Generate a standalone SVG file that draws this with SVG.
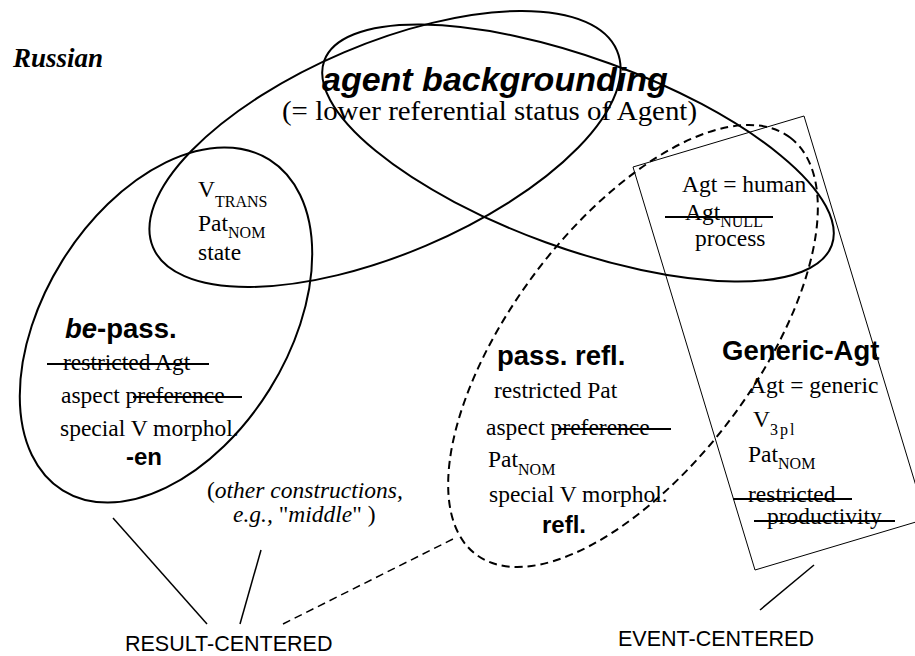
<svg xmlns="http://www.w3.org/2000/svg" width="915" height="656" viewBox="0 0 915 656">
<style>
.e{fill:none;stroke:#000;stroke-width:2}
.d{fill:none;stroke:#000;stroke-width:2;stroke-dasharray:8 5}
.r{fill:none;stroke:#000;stroke-width:1}
.s{stroke:#000;stroke-width:2;fill:none}
.t{font-family:"Liberation Serif","Times New Roman",serif;font-size:23.5px;fill:#000}
.h{font-family:"Liberation Sans",Arial,sans-serif;font-weight:bold;font-size:27.5px;fill:#000}
.sub{font-size:16px}
.lab{font-family:"Liberation Sans",Arial,sans-serif;font-size:21.5px;fill:#000}
</style>
<rect width="915" height="656" fill="#fff"/>
<text x="13" y="67" class="t" style="font-size:27px;font-weight:bold;font-style:italic">Russian</text>

<g id="agent-backgrounding">
<ellipse class="e" cx="385" cy="149" rx="252" ry="105" transform="rotate(-23 385 149)"/>
<ellipse class="e" cx="578" cy="153" rx="270" ry="95" transform="rotate(20 578 153)"/>
<text x="322" y="91" class="h" style="font-size:34px;font-style:italic">agent backgrounding</text>
<text x="282" y="120" class="t" style="font-size:28px" textLength="415" lengthAdjust="spacingAndGlyphs">(= lower referential status of Agent)</text>
<text x="198" y="197" class="t">V<tspan class="sub" dy="10">TRANS</tspan></text>
<text x="198" y="231" class="t">Pat<tspan class="sub" dy="7">NOM</tspan></text>
<text x="198" y="260" class="t">state</text>
<text x="682" y="192" class="t">Agt = human</text>
<text x="685" y="220" class="t">Agt<tspan class="sub" dy="7">NULL</tspan></text>
<text x="695" y="246" class="t">process</text>
</g>

<g id="be-pass">
<ellipse class="e" cx="166" cy="325" rx="195" ry="122" transform="rotate(-58 166 325)"/>
<text x="65" y="338" class="h"><tspan font-style="italic">be</tspan>-pass.</text>
<text x="63" y="370" class="t">restricted Agt</text>
<text x="61" y="403" class="t">aspect preference</text>
<text x="60" y="436" class="t">special V morphol.</text>
<text x="126" y="465" class="h" style="font-size:24px">-en</text>
</g>

<g id="pass-refl">
<ellipse class="d" cx="633" cy="346" rx="261" ry="122" transform="rotate(-53 633 346)"/>
<text x="497" y="365" class="h">pass. refl.</text>
<text x="494" y="398" class="t">restricted Pat</text>
<text x="486" y="435" class="t">aspect preference</text>
<text x="488" y="467" class="t">Pat<tspan class="sub" dy="8">NOM</tspan></text>
<text x="489" y="502" class="t">special V morphol.</text>
<text x="542" y="533" class="h" style="font-size:24px">refl.</text>
</g>

<g id="generic-agt">
<polygon class="r" points="633,167 804,116 926,519 755,570"/>
<text x="722" y="360" class="h">Generic-Agt</text>
<text x="749" y="393" class="t">Agt = generic</text>
<text x="753" y="427" class="t">V<tspan class="sub" dy="8" letter-spacing="2">3pl</tspan></text>
<text x="748" y="462" class="t">Pat<tspan class="sub" dy="7">NOM</tspan></text>
<text x="748" y="502" class="t">restricted</text>
<text x="767" y="524" class="t">productivity</text>
</g>

<g id="other-constructions">
<text x="207" y="498" class="t">(<tspan font-style="italic">other constructions,</tspan></text>
<text x="233" y="522" class="t"><tspan font-style="italic">e.g.,</tspan> "<tspan font-style="italic">middle</tspan>" )</text>
</g>

<g id="strikes">
<line class="s" x1="47" y1="364" x2="209" y2="364"/>
<line class="s" x1="133" y1="397" x2="242" y2="397"/>
<line class="s" x1="558" y1="429" x2="671" y2="429"/>
<line class="s" x1="665" y1="217" x2="773" y2="217"/>
<line class="s" x1="733" y1="499" x2="852" y2="499"/>
<line class="s" x1="754" y1="521" x2="895" y2="521"/>
</g>

<g id="connectors">
<line class="s" style="stroke-width:1.5" x1="113" y1="518" x2="207" y2="624"/>
<line class="s" style="stroke-width:1.5" x1="261" y1="550" x2="240" y2="624"/>
<line class="d" style="stroke-width:1.5" x1="283" y1="624" x2="457" y2="537"/>
<line class="s" style="stroke-width:1.5" x1="814" y1="565" x2="760" y2="610"/>
</g>

<g id="result-centered"><text x="125" y="651" class="lab">RESULT-CENTERED</text></g>
<g id="event-centered"><text x="618" y="646" class="lab">EVENT-CENTERED</text></g>
</svg>
